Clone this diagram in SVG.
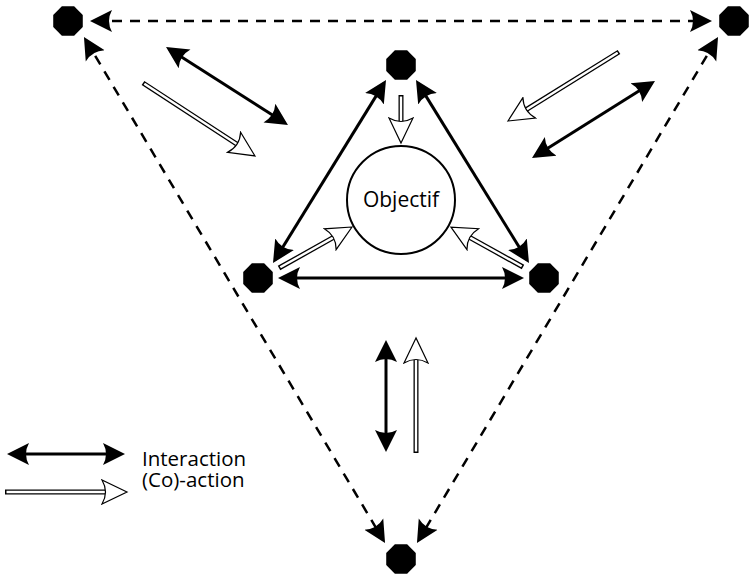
<svg xmlns="http://www.w3.org/2000/svg" width="749" height="574" viewBox="0 0 749 574">
<style>
  .bi { stroke: #000; stroke-width: 3; fill: none; marker-start: url(#headB); marker-end: url(#headB); }
  .dash { stroke: #000; stroke-width: 2.5; fill: none; stroke-dasharray: 10 8; marker-start: url(#headB); marker-end: url(#headB); }
  .coOuter { stroke: #000; stroke-width: 5; fill: none; }
  .coInner { stroke: #fff; stroke-width: 2.4; fill: none; marker-end: url(#headH); }
  .node { fill: #000; }
  .circ { fill: #fff; stroke: #000; stroke-width: 2; }
  text { font-family: "Open Sans", "Noto Sans", "DejaVu Sans", sans-serif; font-size: 20.5px; fill: #000; }
</style>
<defs>
  <marker id="headB" markerUnits="userSpaceOnUse" viewBox="0 -12 24 24" markerWidth="24" markerHeight="24" refX="18" refY="0" orient="auto-start-reverse">
    <path d="M22,0 L0,-11 Q6,0 0,11 Z" fill="#000"/>
  </marker>
  <marker id="headH" markerUnits="userSpaceOnUse" viewBox="-1 -13 28 26" markerWidth="28" markerHeight="26" refX="15" refY="0" orient="auto">
    <path d="M25,0 L0,-12 Q7,0 0,12 Z" fill="#fff" stroke="#000" stroke-width="1.2" stroke-linejoin="miter"/>
  </marker>
  <polygon id="oct" points="14.78,6.12 6.12,14.78 -6.12,14.78 -14.78,6.12 -14.78,-6.12 -6.12,-14.78 6.12,-14.78 14.78,-6.12"/>
</defs>
<rect width="749" height="574" fill="#fff"/>

<g id="connectors">
  <!-- outer dashed triangle -->
  <line class="dash" x1="94" y1="21" x2="708" y2="21"/>
  <line class="dash" x1="86" y1="40.4" x2="383" y2="539.6"/>
  <line class="dash" x1="716" y1="40.4" x2="419" y2="539.6"/>
  <!-- inner triangle -->
  <line class="bi" x1="383.9" y1="83.4" x2="275.1" y2="259.6"/>
  <line class="bi" x1="418.1" y1="83.4" x2="526.9" y2="259.6"/>
  <line class="bi" x1="282" y1="278" x2="520" y2="278"/>
  <!-- side interactions -->
  <line class="bi" x1="169.4" y1="49.2" x2="284.6" y2="122.8"/>
  <line class="bi" x1="651.6" y1="83.1" x2="535.4" y2="155.9"/>
  <line class="bi" x1="386" y1="344" x2="386" y2="448"/>
  <!-- co-actions -->
  <line class="coOuter" x1="401" y1="95" x2="401" y2="133"/>
  <line class="coInner" x1="401" y1="96.5" x2="401" y2="133"/>
  <line class="coOuter" x1="279" y1="268" x2="343.3" y2="231.9"/>
  <line class="coInner" x1="280.3" y1="267.3" x2="343.3" y2="231.9"/>
  <line class="coOuter" x1="523" y1="267" x2="459.7" y2="231.9"/>
  <line class="coInner" x1="521.7" y1="266.3" x2="459.7" y2="231.9"/>
  <line class="coOuter" x1="143" y1="83" x2="246.6" y2="150.5"/>
  <line class="coInner" x1="144.3" y1="83.8" x2="246.6" y2="150.5"/>
  <line class="coOuter" x1="619" y1="52" x2="516.5" y2="115.7"/>
  <line class="coInner" x1="617.7" y1="52.8" x2="516.5" y2="115.7"/>
  <line class="coOuter" x1="416" y1="453" x2="416" y2="348"/>
  <line class="coInner" x1="416" y1="451.5" x2="416" y2="348"/>
</g>

<g id="node-outer-tl"><use href="#oct" class="node" x="68" y="21"/></g>
<g id="node-outer-tr"><use href="#oct" class="node" x="734" y="21"/></g>
<g id="node-outer-bottom"><use href="#oct" class="node" x="401" y="559"/></g>
<g id="node-inner-top"><use href="#oct" class="node" x="401" y="65"/></g>
<g id="node-inner-left"><use href="#oct" class="node" x="258" y="278"/></g>
<g id="node-inner-right"><use href="#oct" class="node" x="544" y="278"/></g>

<g id="node-objectif">
  <circle class="circ" cx="401" cy="200" r="54"/>
  <text x="401" y="207" text-anchor="middle" style="font-size:21px">Objectif</text>
</g>

<g id="legend">
  <line class="bi" x1="11" y1="454" x2="121" y2="454"/>
  <line class="coOuter" x1="5" y1="492" x2="117" y2="492"/>
  <line class="coInner" x1="6.5" y1="492" x2="117" y2="492"/>
  <text x="142" y="466">Interaction</text>
  <text x="142" y="487">(Co)-action</text>
</g>
</svg>
